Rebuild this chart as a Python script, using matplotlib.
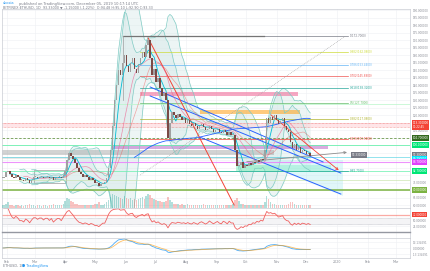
import numpy as np
import pandas as pd
import matplotlib
matplotlib.use("Agg")
import matplotlib.pyplot as plt
from matplotlib.patches import Rectangle, Polygon
import matplotlib.transforms as mtransforms

# свечи с шагом 2 дня, день 0 = 27 янв 2019
close = [78, 79, 82, 83, 81, 79, 78, 80, 79, 77, 77, 76, 78, 77, 75, 77,
         79, 79, 78, 79, 79, 78, 79, 79, 78, 79, 77, 78, 79, 79, 78, 80,
         83, 90, 95, 93, 91, 88, 85, 82, 81, 79, 80, 79, 77, 78, 77, 75,
         75, 73, 74, 75, 75, 78, 85, 97, 113, 130, 140, 150, 147, 155, 160, 153,
         149, 155, 158, 151, 148, 154, 158, 162, 159, 167, 170, 158, 147, 151, 142, 145,
         138, 133, 135, 130, 105, 115, 122, 120, 118, 121, 119, 117, 118, 115, 117, 114,
         113, 115, 113, 111, 113, 114, 112, 110, 111, 113, 111, 109, 110, 111, 109, 108,
         110, 109, 107, 109, 107, 107, 97, 86, 87, 89, 85, 87, 86, 88, 87, 89,
         88, 90, 89, 91, 90, 97, 118, 115, 119, 117, 120, 117, 114, 116, 118, 113,
         110, 109, 102, 98, 101, 97, 99, 95, 97, 96, 94, 95, 93]
volume = [3, 3, 4, 5, 3, 3, 2, 3, 3, 2, 3, 2, 3, 3, 4, 3,
          3, 2, 3, 3, 2, 3, 3, 2, 3, 3, 4, 3, 3, 3, 3, 4,
          6, 9, 8, 6, 5, 4, 4, 3, 3, 3, 3, 3, 3, 3, 3, 4,
          4, 5, 3, 3, 4, 5, 7, 10, 13, 12, 11, 10, 9, 8, 11, 9,
          8, 9, 7, 8, 7, 8, 9, 10, 8, 11, 13, 12, 9, 8, 7, 6,
          6, 5, 5, 6, 10, 7, 5, 4, 4, 4, 3, 4, 3, 3, 4, 3,
          3, 3, 3, 3, 3, 3, 4, 3, 3, 3, 3, 3, 3, 3, 3, 3,
          3, 3, 3, 3, 3, 4, 7, 9, 6, 4, 4, 3, 3, 3, 3, 3,
          3, 3, 3, 3, 3, 5, 11, 8, 5, 4, 4, 3, 3, 3, 3, 3,
          3, 4, 5, 5, 4, 3, 3, 3, 3, 3, 3, 3, 3]
days = np.arange(len(close)) * 2
open_ = [close[0]] + close[:-1]

month_days = [5, 33, 64, 94, 125, 155, 186, 217, 247, 278, 308, 339, 370, 399]
month_labels = ["Feb", "Mar", "Apr", "May", "Jun", "Jul", "Aug", "Sep", "Oct",
                "Nov", "Dec", "2020", "Feb", "Mar"]

fib_high = 172.7
fib_low = 82.7
fib_ratios = [1, 0.882, 0.786, 0.702, 0.618, 0.5, 0.382, 0.236, 0]

# цены подписей справа (цветные плашки)
box_prices = [113.3, 104.7, 100.0, 93.3, 90.7, 88.7, 82.7, 70.0]
box_colors = ["#f44336", "#33691e", "#00e676", "#787b86", "#00e5ff", "#e040fb", "#00e676", "#7cb342"]

W, H = 430, 271
fig = plt.figure(figsize=(W / 100, H / 100), dpi=100)
GRID = "#eef0f4"


def panel(y0, y1, x0=2, x1=410):
    ax = fig.add_axes([x0 / W, 1 - y1 / H, (x1 - x0) / W, (y1 - y0) / H])
    for s in ax.spines.values():
        s.set_color("#c9ccd3")
        s.set_linewidth(0.5)
    ax.set_xlim(0, 413)
    ax.set_xticks(month_days)
    ax.grid(True, color=GRID, lw=0.4)
    ax.set_axisbelow(True)
    ax.yaxis.tick_right()
    ax.tick_params(length=0, labelsize=2.0, labelcolor="#8a8d96", pad=2)
    ax.tick_params(axis="x", labelbottom=False)
    return ax


def rlabel(ax, y, txt, fc, color="white"):
    tr = mtransforms.blended_transform_factory(ax.transAxes, ax.transData)
    ax.text(1.006, y, txt, transform=tr, fontsize=2.0, color=color, va="center", ha="left",
            bbox=dict(boxstyle="square,pad=0.25", fc=fc, ec="none"), clip_on=False, zorder=10)


def price_fmt(v, p):
    # метки под цветными плашками не видны
    if any(abs(v - b) < 3.0 for b in box_prices):
        return ""
    return f"{v:.6f}"


s = pd.Series(close, dtype=float)

# ---------------- основной график ----------------
ax = panel(9, 208)
ax.set_ylim(58, 190.7)
ax.set_yticks(np.arange(60, 191, 5))
ax.yaxis.set_major_formatter(plt.FuncFormatter(price_fmt))

# полосы Боллинджера (две)
for per, k in ((16, 2.4), (10, 2.2)):
    mid = s.rolling(per).mean()
    sd = s.rolling(per).std(ddof=0)
    up, lo = mid + k * sd, mid - k * sd
    ax.fill_between(days, lo, up, color="#d3e8e6", alpha=0.4, lw=0)
    ax.plot(days, up, color="#80cbc4", lw=0.5)
    ax.plot(days, lo, color="#80cbc4", lw=0.5)

# горизонтальные зоны
zones = [(140, 300, 132.7, 135.3, "#f06292", 0.55), (200, 302, 120.7, 123.3, "#ffa726", 0.6),
         (0, 413, 112.0, 114.7, "#ffcdd2", 0.5), (110, 330, 97.3, 100.0, "#ba68c8", 0.55),
         (0, 275, 93.3, 96.7, "#9e9e9e", 0.45), (0, 300, 90.7, 92.0, "#bdbdbd", 0.35),
         (237, 333, 82.0, 86.7, "#69f0ae", 0.45)]
for x0, x1, y0, y1, c, a in zones:
    ax.add_patch(Rectangle((x0, y0), x1 - x0, y1 - y0, fc=c, alpha=a, ec="none"))
ax.add_patch(Polygon([[255, 90], [345, 90], [345, 66]], closed=True, fc="#b2ebf2", alpha=0.4, ec="none"))
for yy in (112.0, 114.7):
    ax.axhline(yy, color="#ef5350", lw=0.5, ls=(0, (1, 1)), alpha=0.7)

hlines = [(127.3, "#b9f6ca", 0.6, "-"), (104.7, "#558b2f", 0.6, (0, (3, 2))),
          (100.0, "#69f0ae", 0.7, "-"), (92.0, "#4dd0e1", 0.5, "-"),
          (88.7, "#ea80fc", 0.8, "-"), (82.7, "#69f0ae", 0.6, "-"),
          (76.7, "#c5e1a5", 0.5, "-"), (70.0, "#7cb342", 1.3, "-")]
for yy, c, lw, ls in hlines:
    ax.axhline(yy, color=c, lw=lw, ls=ls, alpha=0.85)

# уровни Фибоначчи
fib_colors = ["#787b86", "#cddc39", "#64b5f6", "#ef5350", "#26a69a",
              "#66bb6a", "#afb42b", "#f44336", "#26a69a"]
for r, c in zip(fib_ratios, fib_colors):
    p = fib_low + r * (fib_high - fib_low)
    ax.plot([140, 350], [p, p], color=c, lw=0.5)
    ax.text(352, p, f"{r:g}({p:.4f})", color=c, fontsize=2.0, va="center")
ax.plot([122, 265], [fib_high, fib_high], color="#757575", lw=0.9)
ax.plot([122, 122], [fib_high, 130], color="#9e9e9e", lw=0.5)
ax.plot([140, 348], [80, fib_high], color="#9e9e9e", lw=0.5, ls=(0, (1, 1.5)))
ax.add_patch(Rectangle((32, 74.7), 33, 8.6, fc="none", ec="#9e9e9e", lw=0.5))

# трендовые линии
ax.plot([150, 325], [138.7, 88.7], color="#2962ff", lw=0.7)
ax.plot([150, 343], [132.7, 81.3], color="#2962ff", lw=0.7)
ax.plot([200, 343], [105.3, 67.3], color="#2962ff", lw=0.7)
ax.plot([148, 235], [171.3, 60], color="#f44336", lw=0.7)
ax.annotate("", xy=(343, 82), xytext=(270, 121.3),
            arrowprops=dict(arrowstyle="->", color="#f44336", lw=0.6, mutation_scale=4))
ax.annotate("", xy=(352, 95.3), xytext=(245, 88.7),
            arrowprops=dict(arrowstyle="->", color="#8d8d8d", lw=0.6, mutation_scale=4))

# скользящие средние
ax.plot(days, s.rolling(12).mean(), color="#f06292", lw=0.5, alpha=0.7)
ax.plot(days, s.rolling(20).mean(), color="#ef5350", lw=0.5, alpha=0.5)
ax.plot(days, s.rolling(100, min_periods=68).mean(), color="#2962ff", lw=0.6)
ax.plot(days, s.rolling(5).mean(), color="#00bcd4", lw=0.6)

# свечи
o = np.array(open_, dtype=float)
c = np.array(close, dtype=float)
cols = np.where(c >= o, "#a0a0a0", "#7b4a45")
ax.bar(days, np.maximum(np.abs(c - o), 0.4), bottom=np.minimum(o, c), width=1.5, color=cols, zorder=3)

ax.text(354, 93.3, "93.330000", fontsize=2.0, color="white", va="center",
        bbox=dict(boxstyle="square,pad=0.25", fc="#787b86", ec="none"))
box_texts = ["113.300000\n01:22:45"] + [f"{b:.6f}" for b in box_prices[1:]]
for b, t, fc in zip(box_prices, box_texts, box_colors):
    rlabel(ax, b, t, fc)

# объём
axv = fig.add_axes(ax.get_position())
axv.set_xlim(0, 413)
axv.set_ylim(0, 180)
axv.axis("off")
axv.patch.set_alpha(0)
vcols = np.where(c >= o, "#26a69a", "#ef5350")
axv.bar(days, volume, width=1.5, color=vcols, alpha=0.35)

# ---------------- RSI ----------------
ar = panel(208, 232)
delta = s.diff()
gain = delta.clip(lower=0).ewm(alpha=1 / 7, adjust=False).mean()
loss = (-delta.clip(upper=0)).ewm(alpha=1 / 7, adjust=False).mean()
rsi = 100 - 100 / (1 + gain / loss)
ar.set_ylim(0, 100)
ar.set_yticks([25, 50])
ar.yaxis.set_major_formatter(plt.FuncFormatter(lambda v, p: f"{v:.6f}"))
ar.axhspan(33, 58, color="#f4f4f6")
ar.axhline(33, color="#b0b3bb", lw=0.4, ls=(0, (1, 1)))
ar.axhline(58, color="#b0b3bb", lw=0.4, ls=(0, (1, 1)))
ar.axhline(72, color="#f44336", lw=0.9, alpha=0.45)
ar.plot(days, rsi, color="#f06060", lw=0.6)
rlabel(ar, 72, "72.000000", "#f44336")

# пустая панель
am = panel(232, 238)
am.set_ylim(0, 1)
am.set_yticks([])
am.spines["top"].set_color("#9598a1")
am.spines["top"].set_linewidth(1.0)

# ---------------- MACD ----------------
ac = panel(238, 258)
macd = s.ewm(span=6, adjust=False).mean() - s.ewm(span=13, adjust=False).mean()
sig = macd.ewm(span=5, adjust=False).mean()
m = float(np.nanmax(np.abs(macd))) * 1.1
ac.set_ylim(-m, m)
ac.set_yticks([-m * 0.6, 0, m * 0.6])
ac.yaxis.set_major_formatter(plt.FuncFormatter(lambda v, p: f"{v:.6f}"))
ac.plot(days, macd, color="#2196f3", lw=0.6, alpha=0.8)
ac.plot(days, sig, color="#ff9800", lw=0.6, alpha=0.6)
ac.set_xticks(month_days)
ac.set_xticklabels(month_labels)
ac.tick_params(axis="x", labelbottom=True, labelsize=2.3, pad=1.5)

# подписи
fig.text(3 / W, 1 - 3.5 / H, "ukosia", fontsize=2.6, color="#2196f3", va="center")
fig.text(19 / W, 1 - 3.5 / H, "published on TradingView.com, December 05, 2019 10:17:14 UTC",
         fontsize=2.6, color="#787b86", va="center")
fig.text(3 / W, 1 - 8 / H, "BITFINEX:ETHUSD, 1D  93.33000 \u25bc -1.15000 (-1.22%)  O:94.48 H:95.10 L:92.90 C:93.33",
         fontsize=2.4, color="#787b86", va="center")
fig.text(3 / W, 1 - 266 / H, "ETHUSD, 1D", fontsize=2.4, color="#787b86", va="center")
fig.text(22 / W, 1 - 266 / H, "\u25cf TradingView", fontsize=2.6, color="#2196f3", va="center")

fig.savefig("out.png", dpi=100)
